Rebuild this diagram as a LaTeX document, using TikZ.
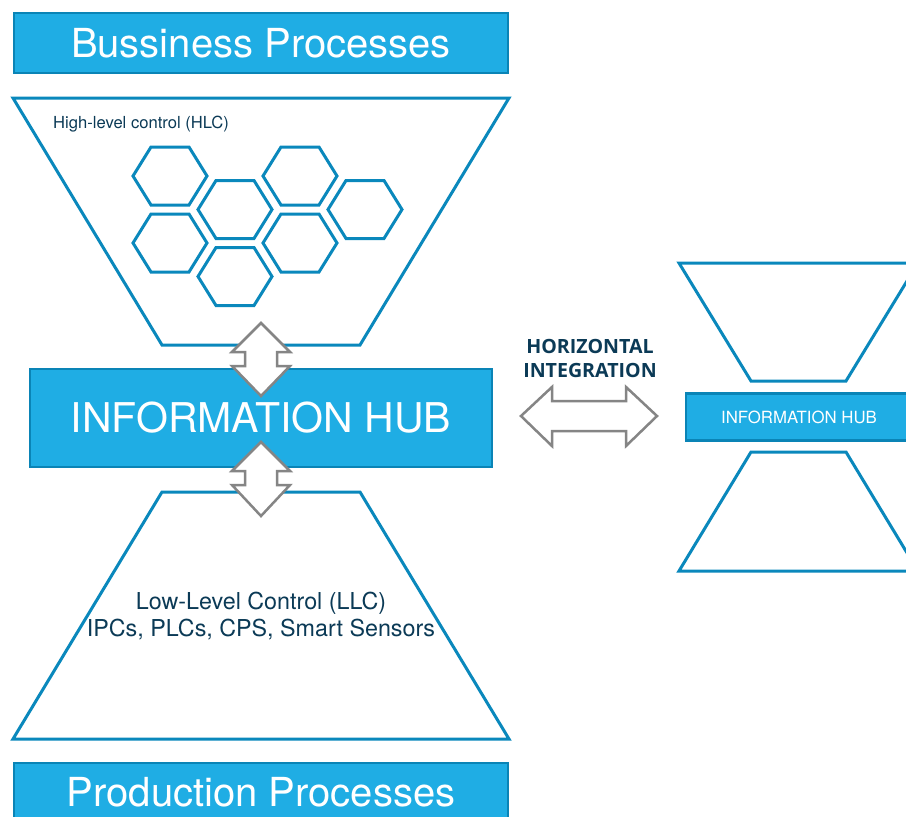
\documentclass[tikz,border=0pt]{standalone}
\usepackage{fontspec}
\setmainfont{TeX Gyre Heros}
\newfontfamily\opensans{Open Sans}
\definecolor{hubfill}{HTML}{1FADE4}
\definecolor{hubedge}{HTML}{0A84B6}
\definecolor{lineblue}{HTML}{0A88BC}
\definecolor{navy}{HTML}{0B3A56}
\definecolor{arrgray}{HTML}{858585}
\tikzset{
  hubbox/.style={draw=hubedge, fill=hubfill, line width=2.5pt, text=white, inner sep=0pt, rectangle},
  funnel/.style={draw=lineblue, line width=3pt, fill=white, line join=miter},
  hexa/.style={draw=lineblue, line width=3pt, line join=miter},
  blockarrow/.style={draw=arrgray, line width=2.5pt, fill=white, line join=miter},
  navytext/.style={text=navy, inner sep=0pt}
}
\begin{document}
\begin{tikzpicture}[x=1pt, y=-1pt]
\useasboundingbox (0,0) rectangle (906,817);
\clip (0,0) rectangle (906,817);
\fill[white] (0,0) rectangle (906,817);

% top banner
\node[hubbox, minimum width=494pt, minimum height=60pt, font=\fontsize{40}{44}\selectfont] (bp) at (261,43) {Bussiness Processes};

% HLC funnel
\draw[funnel] (13,98) -- (509,98) -- (360,345) -- (162,345) -- cycle;
\node[navytext, anchor=base west, font=\fontsize{16.6}{19}\selectfont] (hlc) at (53,128) {High-level control (HLC)};

% hexagons
\foreach \cx/\cy in {170/176, 170/243, 235/209.5, 235/276.5, 300/176, 300/243, 365/209.5}{
  \draw[hexa] ({\cx-37},\cy) -- ({\cx-19},{\cy-29}) -- ({\cx+19},{\cy-29}) -- ({\cx+37},\cy) -- ({\cx+19},{\cy+29}) -- ({\cx-19},{\cy+29}) -- cycle;
}

% LLC funnel
\draw[funnel] (162,492) -- (360,492) -- (509,739) -- (13,739) -- cycle;
\node[navytext, anchor=base, font=\fontsize{23.3}{26}\selectfont] (llc1) at (261,609) {Low-Level Control (LLC)};
\node[navytext, anchor=base, font=\fontsize{23.3}{26}\selectfont] (llc2) at (261,636) {IPCs, PLCs, CPS, Smart Sensors};

% main information hub
\node[hubbox, minimum width=462pt, minimum height=98pt, font=\fontsize{41}{45}\selectfont] (hub) at (261,418) {INFORMATION HUB};

% bottom banner
\node[hubbox, minimum width=494pt, minimum height=58pt, font=\fontsize{40}{44}\selectfont] (pp) at (261,792) {Production Processes};

% vertical block arrows
\draw[blockarrow] (261,323) -- (290,352) -- (277,352) -- (277,366) -- (290,366) -- (261,396) -- (232,366) -- (245,366) -- (245,352) -- (232,352) -- cycle;
\draw[blockarrow] (261,442) -- (290,471) -- (277,471) -- (277,485) -- (290,485) -- (261,516) -- (232,485) -- (245,485) -- (245,471) -- (232,471) -- cycle;

% horizontal integration
\node[navytext, align=center, font=\opensans\bfseries\fontsize{19.6}{24}\selectfont] (hi) at (590,358) {HORIZONTAL\\INTEGRATION};
\draw[blockarrow] (521,416) -- (552,387) -- (552,401) -- (626,401) -- (626,387) -- (657,416) -- (626,446) -- (626,431) -- (552,431) -- (552,446) -- cycle;

% right side hourglass
\draw[funnel] (679,263) -- (918,263) -- (846,381) -- (751,381) -- cycle;
\draw[funnel] (751,452) -- (846,452) -- (918,571) -- (679,571) -- cycle;
\node[hubbox, minimum width=226pt, minimum height=47pt, font=\fontsize{16.8}{19}\selectfont] (hub2) at (799,417) {INFORMATION HUB};
\end{tikzpicture}
\end{document}
